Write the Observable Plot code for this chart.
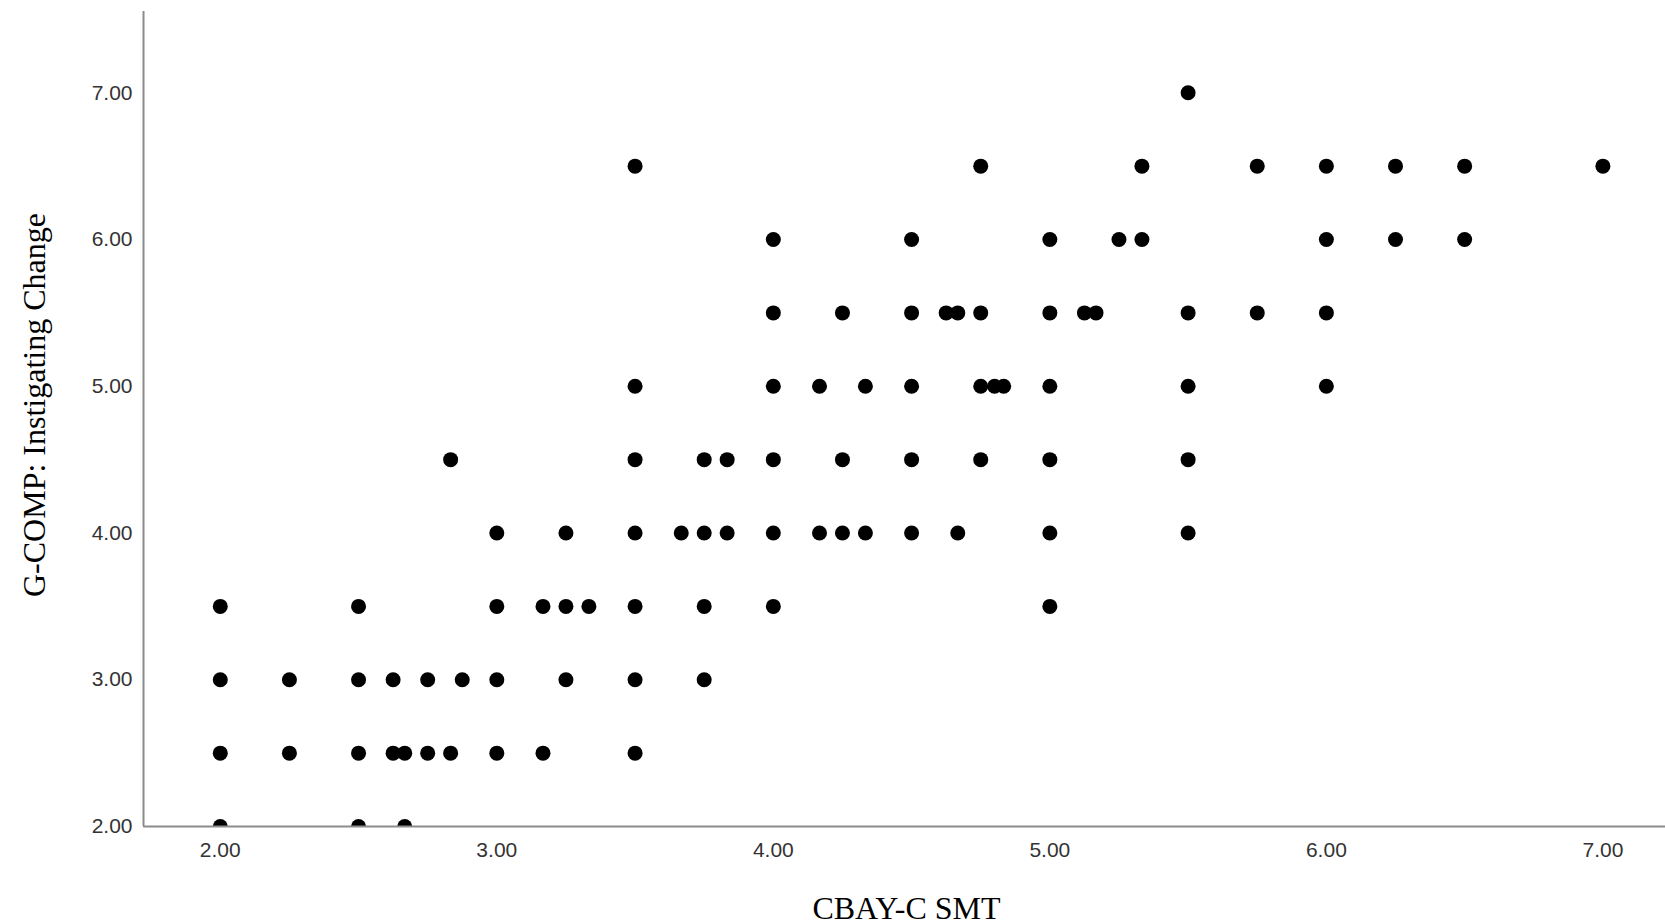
<!DOCTYPE html>
<html>
<head>
<meta charset="utf-8">
<script src="https://cdn.jsdelivr.net/npm/d3@7"></script>
<script src="https://cdn.jsdelivr.net/npm/@observablehq/plot@0.6"></script>
<style>
  html, body { margin: 0; padding: 0; background: #fff; }
  #chart { width: 1665px; height: 924px; }
</style>
</head>
<body>
<div id="chart"></div>
<script>
// Values: for each y level, the x values of the dots
const yLevels = [7.0, 6.5, 6.0, 5.5, 5.0, 4.5, 4.0, 3.5, 3.0, 2.5, 2.0];
const xAt700 = [5.5];
const xAt650 = [3.5, 4.75, 5.333, 5.75, 6.0, 6.25, 6.5, 7.0];
const xAt600 = [4.0, 4.5, 5.0, 5.25, 5.333, 6.0, 6.25, 6.5];
const xAt550 = [4.0, 4.25, 4.5, 4.625, 4.667, 4.75, 5.0, 5.125, 5.167, 5.5, 5.75, 6.0];
const xAt500 = [3.5, 4.0, 4.167, 4.333, 4.5, 4.75, 4.8, 4.833, 5.0, 5.5, 6.0];
const xAt450 = [2.833, 3.5, 3.75, 3.833, 4.0, 4.25, 4.5, 4.75, 5.0, 5.5];
const xAt400 = [3.0, 3.25, 3.5, 3.667, 3.75, 3.833, 4.0, 4.167, 4.25, 4.333, 4.5, 4.667, 5.0, 5.5];
const xAt350 = [2.0, 2.5, 3.0, 3.167, 3.25, 3.333, 3.5, 3.75, 4.0, 5.0];
const xAt300 = [2.0, 2.25, 2.5, 2.625, 2.75, 2.875, 3.0, 3.25, 3.5, 3.75];
const xAt250 = [2.0, 2.25, 2.5, 2.625, 2.667, 2.75, 2.833, 3.0, 3.167, 3.5];
const xAt200 = [2.0, 2.5, 2.667];
const xByLevel = [xAt700, xAt650, xAt600, xAt550, xAt500, xAt450, xAt400, xAt350, xAt300, xAt250, xAt200];

const xTicks = [2, 3, 4, 5, 6, 7];
const yTicks = [2, 3, 4, 5, 6, 7];
const xTitle = "CBAY-C SMT";
const yTitle = "G-COMP: Instigating Change";

const xDomain = [1.7223, 7.2264];
const yDomain = [2.0, 7.554];

const points = [];
yLevels.forEach((yv, i) => xByLevel[i].forEach(xv => points.push({x: xv, y: yv})));

const fmt = d3.format(".2f");
const serif = "'Liberation Serif', 'Times New Roman', serif";

const chart = Plot.plot({
  width: 1665,
  height: 924,
  marginLeft: 143,
  marginRight: 0,
  marginTop: 11,
  marginBottom: 98,
  style: {fontFamily: "'Liberation Sans', Arial, sans-serif", fontSize: "21px", background: "#fff", overflow: "visible"},
  x: {domain: xDomain},
  y: {domain: yDomain},
  marks: [
    Plot.dot(points, {x: "x", y: "y", r: 7.5, fill: "#000", stroke: "none", clip: true}),
    Plot.ruleX([xDomain[0]], {stroke: "#8c8c8c", strokeWidth: 2}),
    Plot.ruleY([yDomain[0]], {stroke: "#8c8c8c", strokeWidth: 2}),
    Plot.axisX(xTicks, {tickSize: 0, tickPadding: 16, tickFormat: fmt, label: null, fill: "#333"}),
    Plot.axisY(yTicks, {tickSize: 0, tickPadding: 11, tickFormat: fmt, label: null, fill: "#333"}),
    Plot.text([xTitle], {frameAnchor: "bottom", text: d => d, dx: 2, dy: 82, lineAnchor: "middle", textAnchor: "middle",
      fontFamily: serif, fontSize: 32, fill: "#000"}),
    Plot.text([yTitle], {frameAnchor: "left", text: d => d, rotate: -90, dx: -109, dy: -14, lineAnchor: "middle", textAnchor: "middle",
      fontFamily: serif, fontSize: 32, fill: "#000"})
  ]
});
document.getElementById("chart").appendChild(chart);
</script>
</body>
</html>
